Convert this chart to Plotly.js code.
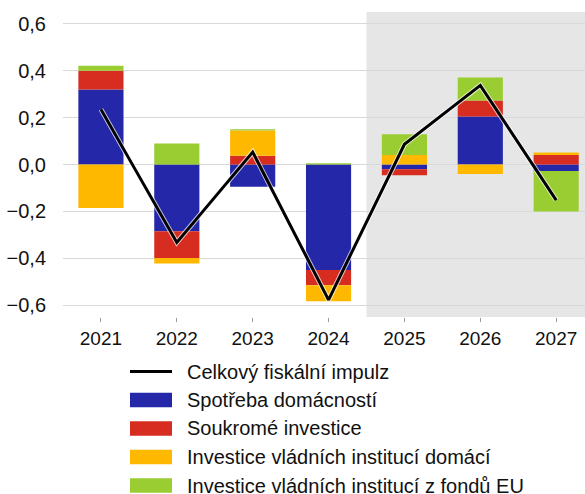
<!DOCTYPE html>
<html>
<head>
<meta charset="utf-8">
<script src="https://cdn.plot.ly/plotly-3.0.1.min.js"></script>
<style>
  html, body { margin: 0; padding: 0; background: #fff; overflow: hidden; }
  #chart { width: 585px; height: 494px; }
</style>
</head>
<body>
<div id="chart"></div>
<script>
// ---- data ----
var years = ['2021', '2022', '2023', '2024', '2025', '2026', '2027'];
var spotrebaDomacnosti = [0.32, -0.285, -0.095, -0.45, -0.02, 0.205, -0.028];
var soukromeInvestice = [0.08, -0.113, 0.037, -0.065, -0.026, 0.068, 0.040];
var investiceDomaci = [-0.185, -0.024, 0.108, -0.068, 0.040, -0.040, 0.011];
var investiceFondyEU = [0.021, 0.09, 0.005, 0.005, 0.089, 0.098, -0.172];
var celkovyImpulz = [0.235, -0.332, 0.053, -0.577, 0.086, 0.337, -0.152];
var seriesNames = ['Celkový fiskální impulz', 'Spotřeba domácností', 'Soukromé investice',
                   'Investice vládních institucí domácí', 'Investice vládních institucí z fondů EU'];
var yTickVals = [-0.6, -0.4, -0.2, 0, 0.2, 0.4, 0.6];
var forecastStart = '2025';

// ---- styles ----
var colors = ['#000000', '#2327A8', '#D62D20', '#FFB800', '#9ACD32'];
var FONT = 'Liberation Sans, Arial, sans-serif';

function barTrace(y, i) {
  return { type: 'bar', x: years, y: y, name: seriesNames[i],
           marker: { color: colors[i], line: { width: 0 } },
           showlegend: false, hoverinfo: 'x+y' };
}

var traces = [
  barTrace(spotrebaDomacnosti, 1),
  barTrace(soukromeInvestice, 2),
  barTrace(investiceDomaci, 3),
  barTrace(investiceFondyEU, 4),
  { type: 'scatter', mode: 'lines', x: years, y: celkovyImpulz, name: 'halo',
    line: { color: 'rgba(255,255,255,0.7)', width: 5 }, showlegend: false, hoverinfo: 'skip' },
  { type: 'scatter', mode: 'lines', x: years, y: celkovyImpulz, name: seriesNames[0],
    line: { color: colors[0], width: 3 }, showlegend: false }
];

// manual legend (wide colour keys as in the reference)
var plotTop = 12, plotBottom = 317, plotLeft = 63, plotRight = 585;
function py(pix) { return (plotBottom - pix) / (plotBottom - plotTop); }
function px(pix) { return (pix - plotLeft) / (plotRight - plotLeft); }
var legendY = [371.5, 400, 428.5, 457, 485.5];
var shapes = [
  { type: 'rect', xref: 'x', yref: 'paper', x0: years.indexOf(forecastStart) - 0.5, x1: 7,
    y0: 0, y1: 1, fillcolor: '#E6E6E6', line: { width: 0 }, layer: 'below' },
  { type: 'line', xref: 'paper', yref: 'y', x0: 0, x1: 1, y0: 0, y1: 0,
    line: { color: '#000', width: 1 }, layer: 'between' }
];
var annotations = [];
for (var i = 0; i < seriesNames.length; i++) {
  var yc = legendY[i];
  if (i === 0) {
    shapes.push({ type: 'line', xref: 'paper', yref: 'paper', x0: px(130), x1: px(172),
      y0: py(yc), y1: py(yc), line: { color: colors[0], width: 3 } });
  } else {
    shapes.push({ type: 'rect', xref: 'paper', yref: 'paper', x0: px(130), x1: px(172),
      y0: py(yc - 7.3), y1: py(yc + 7.3), fillcolor: colors[i], line: { width: 0 } });
  }
  annotations.push({ xref: 'paper', yref: 'paper', x: px(186), y: py(yc), text: seriesNames[i],
    showarrow: false, xanchor: 'left', yanchor: 'middle', borderpad: 0,
    font: { family: FONT, size: 20, color: '#111' } });
}

var layout = {
  width: 585, height: 494,
  margin: { l: plotLeft, r: 585 - plotRight, t: plotTop, b: 494 - plotBottom, pad: 0 },
  paper_bgcolor: '#fff', plot_bgcolor: '#fff',
  barmode: 'relative', bargap: 0.405,
  separators: ', ',
  showlegend: false,
  font: { family: FONT, size: 19, color: '#111' },
  xaxis: { type: 'category', range: [-0.5, 6.38], showgrid: false, zeroline: false,
           ticks: 'outside', ticklen: 4, tickcolor: '#999', tickwidth: 1,
           showline: false, tickfont: { size: 19, color: '#111' }, fixedrange: true },
  yaxis: { range: [-0.65, 0.65], tickvals: yTickVals, tickformat: '.1f',
           showgrid: true, gridcolor: '#D9D9D9', gridwidth: 1.5,
           zeroline: false, ticks: '', ticklabelstandoff: 16,
           tickfont: { size: 20, color: '#111' }, fixedrange: true },
  shapes: shapes,
  annotations: annotations
};

Plotly.newPlot('chart', traces, layout, { displayModeBar: false, staticPlot: true });
</script>
</body>
</html>
